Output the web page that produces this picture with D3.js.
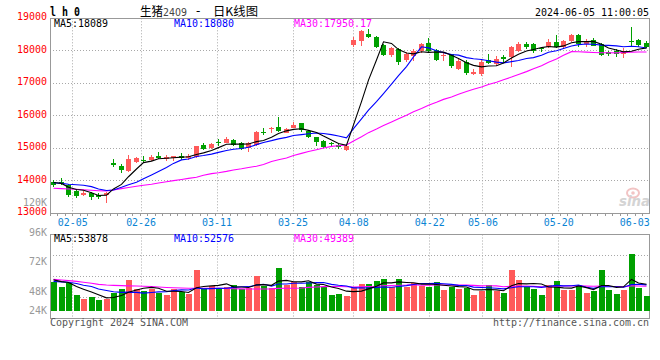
<!DOCTYPE html>
<html><head><meta charset="utf-8">
<script src="https://cdn.jsdelivr.net/npm/d3@7"></script>
<style>body{margin:0;background:#fff}svg{display:block}</style>
</head><body><svg id="c" width="660" height="360"></svg>
<script>
const dates = ["01-31","02-01","02-02","02-05","02-06","02-07","02-08","02-19","02-20","02-21","02-22","02-23","02-26","02-27","02-28","02-29","03-01","03-04","03-05","03-06","03-07","03-08","03-11","03-12","03-13","03-14","03-15","03-18","03-19","03-20","03-21","03-22","03-25","03-26","03-27","03-28","03-29","04-01","04-02","04-03","04-08","04-09","04-10","04-11","04-12","04-15","04-16","04-17","04-18","04-19","04-22","04-23","04-24","04-25","04-26","04-29","04-30","05-06","05-07","05-08","05-09","05-10","05-13","05-14","05-15","05-16","05-17","05-20","05-21","05-22","05-23","05-24","05-27","05-28","05-29","05-30","05-31","06-03","06-04","06-05"];
const open = [13965,13960,13860,13700,13570,13615,13560,13570,14550,14460,14290,14570,14650,14630,14760,14672,14700,14774,14692,14730,15090,14997,15200,15172,15254,15151,15010,15100,15500,15585,15664,15480,15630,15780,15541,15336,15234,15172,15100,14950,18190,18312,18530,18430,18179,17860,18050,17728,17840,17990,18225,18015,17850,17890,17430,17650,17300,17287,17705,17584,17810,17795,18000,18210,18210,18097,18107,18270,18107,18312,18487,18215,18320,18195,17974,17990,17902,18312,18320,18230];
const high = [14040,14090,13890,13750,13680,13667,13620,13650,14660,14510,14790,14720,14760,14800,14880,14795,14770,14846,14815,15080,15160,15151,15295,15336,15285,15182,15200,15541,15613,15644,15950,15613,15818,15790,15562,15357,15254,15203,15151,15100,18420,18640,18660,18466,18220,18128,18097,17950,18060,18245,18385,18066,17940,17910,17738,17718,17455,17718,17910,17841,17871,18148,18270,18282,18230,18128,18370,18487,18333,18518,18518,18354,18384,18230,18005,18046,18076,18740,18354,18312];
const low = [13800,13860,13510,13480,13540,13410,13440,13320,14430,14240,14280,14540,14540,14600,14670,14610,14600,14641,14641,14700,14946,14967,15080,15151,15070,14946,14895,15080,15408,15459,15510,15459,15613,15510,15305,15080,14997,15049,14967,14925,18128,18160,18380,18076,17840,17820,17560,17660,17700,17940,17954,17687,17680,17461,17410,17270,17270,17240,17594,17543,17640,17512,17950,18060,17923,17974,18076,18076,18076,18281,18128,18128,18140,17840,17840,17800,17769,18115,18128,18076];
const close = [13870,13920,13570,13540,13640,13490,13500,13630,14490,14335,14670,14690,14610,14720,14710,14744,14760,14710,14774,15070,14980,15130,15151,15295,15100,14967,15160,15500,15460,15613,15530,15582,15730,15562,15357,15203,15028,15131,15028,15080,18333,18615,18435,18128,17871,18090,17666,17900,18000,18195,17990,17728,17880,17520,17697,17328,17335,17650,17640,17745,17759,18107,18220,18128,17990,18050,18282,18118,18312,18487,18210,18280,18160,17871,17910,17890,18005,18260,18170,18128];
const volume = [55051,51526,54238,44746,41491,43390,40678,41491,46102,49627,56950,49627,48271,49627,46102,44746,49627,47458,45559,65086,50170,52068,49627,51526,52882,49627,50170,60204,52339,50170,66713,52882,55051,51526,55051,52882,51526,44746,45559,44203,50983,53695,53695,56136,57763,50983,57763,51526,54780,52339,51526,55594,48814,51526,49627,50170,44746,48271,52882,48000,46644,65086,56950,51526,49627,44746,52882,56136,48814,48814,52882,46644,48271,65086,48814,45559,48814,78103,50712,43932];
const ma5Head = [13950,13920,13800,13730];
const ma10Head = [13940,13920,13895,13880,13865,13820,13750,13700,13715];
const ma30Head = [13770,13760,13750,13740,13725,13710,13695,13690,13718,13760,13795,13830,13865,13895,13930,13970,14005,14040,14075,14110,14170,14220,14250,14290,14330,14370,14410,14450,14500];
const vma5Head = [56900,55500,54800,51500];
const vma10Head = [55600,55300,55000,54000,52500,51500,49500,48300,47300];
const vma30Head = [57300,56800,56300,55700,55000,54200,53300,52800,52500,52300,52100,52000,51700,51500,51200,50800,50500,50300,50200,50200,50200,50200,50100,50000,49700,49600,49500,49500,49500];
const priceTicks = [13000,14000,15000,16000,17000,18000,19000];
const volTicks = [120000,96000,72000,48000,24000];
const dateLabels = ["02-05","02-26","03-11","03-25","04-08","04-22","05-06","05-20","06-03"];
const priceHeader = ["MA5:18089","MA10:18080","MA30:17950.17"];
const volHeader = ["MA5:53878","MA10:52576","MA30:49389"];
const titleText = ["l h 0","生猪","2409","-","日K线图"];
const timeText = "2024-06-05 11:00:05";

const svg = d3.select("#c");
const MONO = "DejaVu Sans Mono, Liberation Mono, monospace";
const L = 50, R = 650, T = 18.3, B = 213.3, VT = 234.5, VB = 318.5, VBASE = 32000;
const maColors = ["#000000","#0000ff","#ff00ff"];
const UP = "#ff5a5a", DN = "#00a000";

const x = d3.scaleBand().domain(dates).range([L, R]);
const xg = d3.scalePoint().domain(dates).range([L, R]);
const y = d3.scaleLinear().domain([13000, 19000]).range([B, T]);
const yv = d3.scaleLinear().domain([VBASE, 96000]).range([310.7, 231.5]);
const cx = d => Math.floor(x(d) + x.bandwidth() / 2);
const px = v => Math.floor(v) + 0.5;

function ma(arr, n, head) {
  return arr.map((_, i) => i >= n - 1 ? d3.mean(arr.slice(i - n + 1, i + 1)) : head[i]);
}
function monoText(g, str, xx, yy, color, anchor, size, weight) {
  return g.append("text").attr("x", xx).attr("y", yy).attr("fill", color)
    .attr("text-anchor", anchor || "start").attr("font-family", MONO)
    .attr("font-size", size || 11).attr("font-weight", weight || "normal")
    .attr("textLength", str.length * 6).attr("lengthAdjust", "spacingAndGlyphs").text(str);
}

// ---------- grid ----------
const grid = svg.append("g").attr("stroke", "#a8a8a8").attr("stroke-dasharray", "1,2").attr("fill", "none");
priceTicks.filter(v => v > 13000 && v < 19000).forEach(v => {
  grid.append("line").attr("x1", L).attr("x2", R).attr("y1", px(y(v))).attr("y2", px(y(v)));
});
[0.25, 0.5, 0.75].forEach(f => {
  const yy = px(VT + (VB - VT) * f);
  grid.append("line").attr("x1", L).attr("x2", R).attr("y1", yy).attr("y2", yy);
});
dateLabels.forEach(d => {
  const gx = px(xg(d));
  if (gx > R - 20) return;
  grid.append("line").attr("x1", gx).attr("x2", gx).attr("y1", T).attr("y2", B);
  grid.append("line").attr("x1", gx).attr("x2", gx).attr("y1", VT).attr("y2", VB);
});

// ---------- watermark ----------
const wm = svg.append("g");
wm.append("ellipse").attr("cx", 633).attr("cy", 193).attr("rx", 6).attr("ry", 4.5)
  .attr("fill", "none").attr("stroke", "#f2c4c4").attr("stroke-width", 2);
wm.append("circle").attr("cx", 633).attr("cy", 193).attr("r", 1.8).attr("fill", "#f2c4c4");
wm.append("text").attr("x", 619).attr("y", 206).attr("fill", "#d4d4d4")
  .attr("font-family", "DejaVu Sans, sans-serif").attr("font-style", "italic").attr("font-weight", "bold")
  .attr("font-size", 14).attr("textLength", 31).attr("lengthAdjust", "spacingAndGlyphs").text("sina");

// ---------- borders ----------
const bd = svg.append("g").attr("stroke", "#999").attr("fill", "none").attr("shape-rendering", "crispEdges");
bd.append("rect").attr("x", L + 0.5).attr("y", px(T)).attr("width", R - L - 1).attr("height", Math.floor(B) - Math.floor(T));
bd.append("rect").attr("x", L + 0.5).attr("y", px(VT)).attr("width", R - L - 1).attr("height", Math.floor(VB) - Math.floor(VT));
dates.forEach(d => {
  const tx = Math.floor(x(d)) + 0.5;
  bd.append("line").attr("x1", tx).attr("x2", tx).attr("y1", px(B)).attr("y2", px(B) + 2);
});

// ---------- candles ----------
const cg = svg.append("g").attr("shape-rendering", "crispEdges");
dates.forEach((d, i) => {
  const up = close[i] >= open[i];
  const col = up ? UP : DN;
  const c = cx(d);
  const top = Math.round(y(Math.max(open[i], close[i])));
  const bot = Math.round(y(Math.min(open[i], close[i])));
  cg.append("rect").attr("x", c).attr("width", 1)
    .attr("y", Math.round(y(high[i]))).attr("height", Math.max(1, Math.round(y(low[i])) - Math.round(y(high[i]))))
    .attr("fill", col);
  cg.append("rect").attr("x", c - 2).attr("width", 5).attr("y", top).attr("height", Math.max(1, bot - top)).attr("fill", col);
});

// ---------- volume bars ----------
const vg = svg.append("g").attr("shape-rendering", "crispEdges");
dates.forEach((d, i) => {
  const up = close[i] >= open[i];
  const c = cx(d);
  const t = Math.round(yv(volume[i])), b = Math.round(yv(VBASE));
  vg.append("rect").attr("x", c - 2.5).attr("width", 6).attr("y", t).attr("height", b - t)
    .attr("fill", up ? UP : DN);
});

// ---------- MA lines ----------
const priceMA = [ma(close, 5, ma5Head), ma(close, 10, ma10Head), ma(close, 30, ma30Head)];
const volMA = [ma(volume, 5, vma5Head), ma(volume, 10, vma10Head), ma(volume, 30, vma30Head)];
const lineP = d3.line().x((v, i) => cx(dates[i]) + 0.5).y(v => y(v));
const lineV = d3.line().x((v, i) => cx(dates[i]) + 0.5).y(v => yv(v));
[2, 1, 0].forEach(k => {
  svg.append("path").attr("d", lineP(priceMA[k])).attr("fill", "none").attr("stroke", maColors[k]).attr("stroke-width", 1.1);
  svg.append("path").attr("d", lineV(volMA[k])).attr("fill", "none").attr("stroke", maColors[k]).attr("stroke-width", 1.1);
});

// ---------- texts ----------
const tg = svg.append("g");
priceTicks.forEach(v => {
  const s = String(v);
  monoText(tg, s, 47, y(v) + 2, "#ff0000", "end");
});
volTicks.forEach(v => {
  const s = (v / 1000) + "K";
  monoText(tg, s, 47, Math.min(yv(v), 310) + 4, "#999999", "end");
});
dateLabels.forEach(d => {
  monoText(tg, d, xg(d), 225.5, "#0a84d4", "middle");
});
const hx = [54, 174, 294];
priceHeader.forEach((s, k) => monoText(tg, s, hx[k], 27, maColors[k]));
volHeader.forEach((s, k) => monoText(tg, s, hx[k], 242, maColors[k]));

monoText(tg, titleText[0], 50, 15.5, "#000", "start", 12, "bold");
tg.append("text").attr("x", 140).attr("y", 16).attr("font-family", "Noto Sans CJK SC, sans-serif")
  .attr("font-size", 12).attr("fill", "#000").attr("textLength", 23).attr("lengthAdjust", "spacingAndGlyphs").text(titleText[1]);
tg.append("text").attr("x", 163).attr("y", 16).attr("font-family", "DejaVu Sans, sans-serif")
  .attr("font-size", 11).attr("fill", "#444").attr("textLength", 24).attr("lengthAdjust", "spacingAndGlyphs").text(titleText[2]);
tg.append("text").attr("x", 196).attr("y", 15).attr("font-family", "DejaVu Sans, sans-serif")
  .attr("font-size", 12).attr("fill", "#000").text(titleText[3]);
tg.append("text").attr("x", 213).attr("y", 16).attr("font-family", "Noto Sans CJK SC, sans-serif")
  .attr("font-size", 12).attr("fill", "#000").attr("textLength", 45).attr("lengthAdjust", "spacingAndGlyphs").text(titleText[4]);
monoText(tg, timeText, 649, 15.5, "#000", "end");
monoText(tg, "Copyright 2024 SINA.COM", 50, 326, "#555");
monoText(tg, "http://finance.sina.com.cn", 649, 326, "#555", "end");
</script></body></html>
